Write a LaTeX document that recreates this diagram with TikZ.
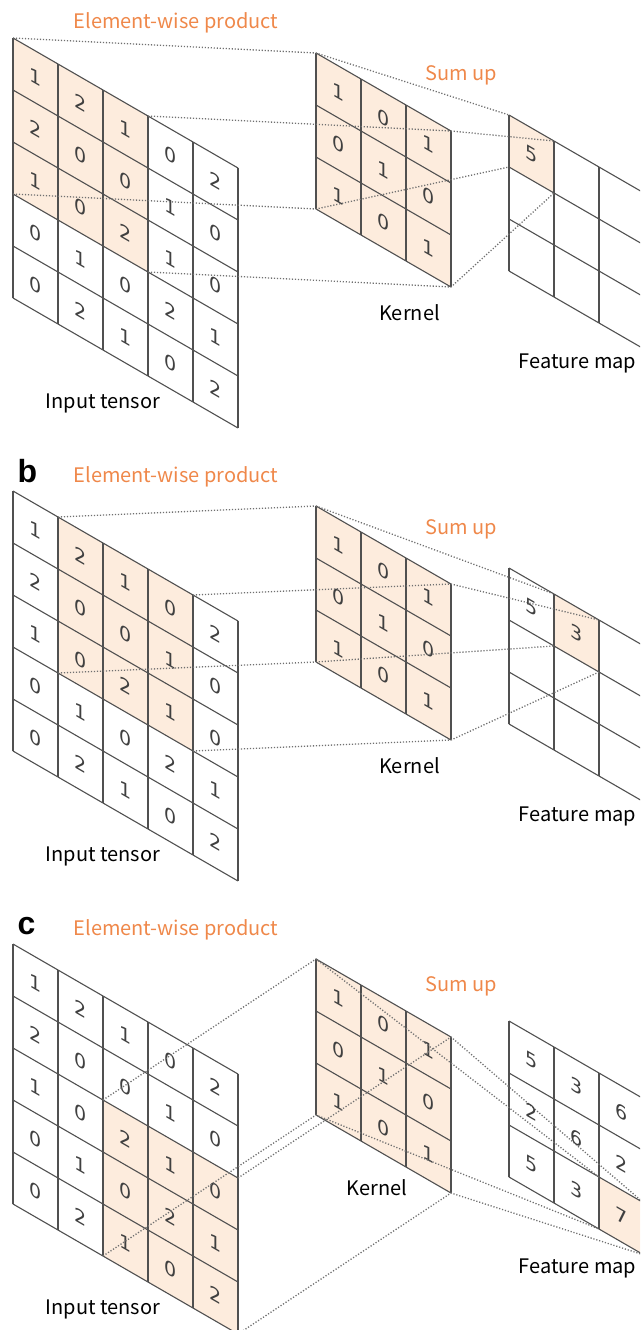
\documentclass[tikz,border=0pt]{standalone}
\usepackage{fontspec}
\usetikzlibrary{calc}
\setmainfont{Noto Sans CJK JP}
\newfontfamily\cifras{DejaVu Sans}
\newfontfamily\letras{Liberation Sans}

\definecolor{melocoton}{RGB}{253,236,221}
\definecolor{naranja}{RGB}{239,136,74}
\definecolor{trazo}{RGB}{80,80,80}
\definecolor{punteado}{RGB}{112,112,112}

\tikzset{
  celda/.style={fill=melocoton},
  rejilla/.style={draw=trazo, line width=1.1pt},
  num/.style={font=\cifras\fontsize{19}{19}\selectfont, text=black!75,
    yslant=-0.577, transform shape, inner sep=0pt},
  guia/.style={draw=punteado, line width=1.3pt, dash pattern=on 1.2pt off 1.8pt},
  titulo/.style={anchor=base, text=naranja, font=\fontsize{20}{24}\selectfont},
  etiqueta/.style={anchor=base, font=\fontsize{20}{24}\selectfont},
  panel/.style={anchor=base west, font=\letras\bfseries\fontsize{32}{32}\selectfont}
}

\begin{document}
\begin{tikzpicture}[x=1pt, y=-1pt]

    \useasboundingbox (0,0) rectangle (640,1330);
    \clip (0,0) rectangle (640,1330);

    % Paneles a, b, c
    \foreach \p/\dy/\ci/\cj in {a/0/0/0, b/453/1/0, c/906/2/2} {
    \begin{scope}[yshift=-\dy pt]

      % Tensor de entrada
      \foreach \i in {0,1,2} \foreach \j in {0,1,2}
        \fill[celda] ({13+45*(\ci+\i)}, {38+26*(\ci+\i)+52*(\cj+\j)})
          -- ++(45,26) -- ++(0,52) -- ++(-45,-26) -- cycle;
      \foreach \i in {0,...,5}
        \draw[rejilla] ({13+45*\i}, {38+26*\i}) -- ++(0,260);
      \foreach \j in {0,...,5}
        \draw[rejilla] (13, {38+52*\j}) -- ++(225,130);
      \foreach \fila [count=\j from 0] in
          {{1,2,1,0,2},{2,0,0,1,0},{1,0,2,1,0},{0,1,0,2,1},{0,2,1,0,2}}
        \foreach \v [count=\i from 0] in \fila
          \node[num] (\p-e\i\j) at ({35.5+45*\i}, {77+26*\i+52*\j}) {\v};

      % Kernel
      \fill[celda] (316,53) -- ++(135,78) -- ++(0,156) -- ++(-135,-78) -- cycle;
      \foreach \i in {0,...,3}
        \draw[rejilla] ({316+45*\i}, {53+26*\i}) -- ++(0,156);
      \foreach \j in {0,...,3}
        \draw[rejilla] (316, {53+52*\j}) -- ++(135,78);
      \foreach \fila [count=\j from 0] in {{1,0,1},{0,1,0},{1,0,1}}
        \foreach \v [count=\i from 0] in \fila
          \node[num] (\p-k\i\j) at ({338.5+45*\i}, {92+26*\i+52*\j}) {\v};

      % Mapa de caracteristicas
      \fill[celda] ({509+45*\ci}, {115+26*\ci+52*\cj})
        -- ++(45,26) -- ++(0,52) -- ++(-45,-26) -- cycle;
      \foreach \i in {0,...,3}
        \draw[rejilla] ({509+45*\i}, {115+26*\i}) -- ++(0,156);
      \foreach \j in {0,...,3}
        \draw[rejilla] (509, {115+52*\j}) -- ++(135,78);

      % Esquinas
      \coordinate (\p-etl) at ({13+45*\ci}, {38+26*\ci+52*\cj});
      \coordinate (\p-etr) at ($(\p-etl)+(135,78)$);
      \coordinate (\p-ebl) at ($(\p-etl)+(0,156)$);
      \coordinate (\p-ebr) at ($(\p-etl)+(135,234)$);
      \coordinate (\p-ktl) at (316,53);
      \coordinate (\p-ktr) at (451,131);
      \coordinate (\p-kbl) at (316,209);
      \coordinate (\p-kbr) at (451,287);
      \coordinate (\p-ftl) at ({509+45*\ci}, {115+26*\ci+52*\cj});
      \coordinate (\p-ftr) at ($(\p-ftl)+(45,26)$);
      \coordinate (\p-fbl) at ($(\p-ftl)+(0,52)$);
      \coordinate (\p-fbr) at ($(\p-ftl)+(45,78)$);

      % Lineas punteadas
      \foreach \e in {tl,tr,bl,br}
        \draw[guia] (\p-e\e) -- (\p-k\e) -- (\p-f\e);

    \end{scope}
    }

    % Valores del mapa
    \node[num] (a-f00) at (531.5,154) {5};
    \foreach \i/\j/\v in {0/0/5,1/0/3}
      \node[num] (b-f\i\j) at ({531.5+45*\i}, {607+26*\i+52*\j}) {\v};
    \foreach \i/\j/\v in {0/0/5,0/1/2,0/2/5,1/0/3,1/1/6,1/2/3,2/0/6,2/1/2,2/2/7}
      \node[num] (c-f\i\j) at ({531.5+45*\i}, {1060+26*\i+52*\j}) {\v};

    % Etiquetas
    \node[titulo] (a-prod) at (176,29) {Element-wise product};
    \node[titulo] (a-suma) at (461.5,81) {Sum up};
    \node[etiqueta] (a-ent) at (103,408) {Input tensor};
    \node[etiqueta] (a-ker) at (409.5,320) {Kernel};
    \node[etiqueta] (a-mapa) at (577.5,368) {Feature map};

    \node[panel] (b-letra) at (14,482) {b};
    \node[titulo] (b-prod) at (176,482) {Element-wise product};
    \node[titulo] (b-suma) at (461.5,534) {Sum up};
    \node[etiqueta] (b-ent) at (103,861) {Input tensor};
    \node[etiqueta] (b-ker) at (409.5,773) {Kernel};
    \node[etiqueta] (b-mapa) at (577.5,821) {Feature map};

    \node[panel] (c-letra) at (14,934) {c};
    \node[titulo] (c-prod) at (176,935) {Element-wise product};
    \node[titulo] (c-suma) at (461.5,991) {Sum up};
    \node[etiqueta] (c-ent) at (103,1314) {Input tensor};
    \node[etiqueta] (c-ker) at (377,1195) {Kernel};
    \node[etiqueta] (c-mapa) at (577.5,1273) {Feature map};

\end{tikzpicture}
\end{document}
